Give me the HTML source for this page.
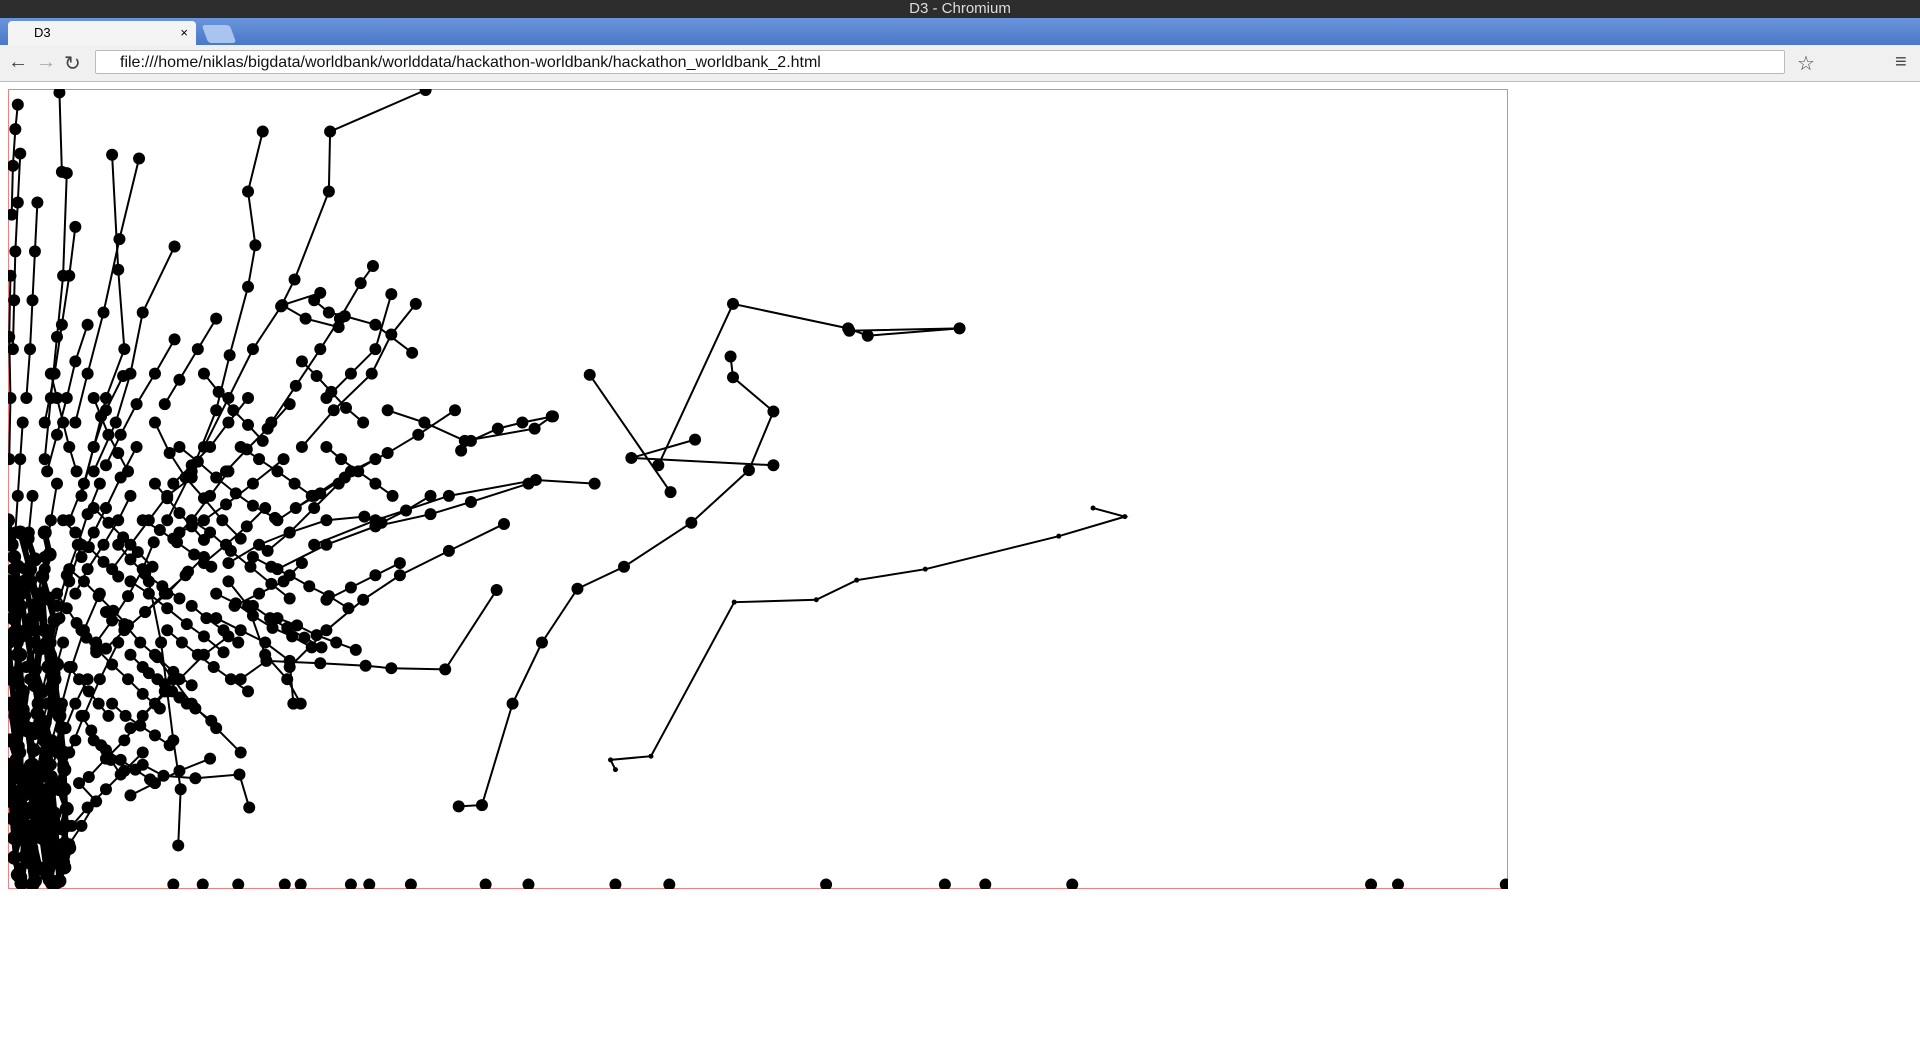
<!DOCTYPE html>
<html><head><meta charset="utf-8"><style>
html,body{margin:0;padding:0;width:1920px;height:1045px;overflow:hidden;background:#fff;font-family:"Liberation Sans",sans-serif}
#titlebar{position:absolute;left:0;top:0;width:1920px;height:18px;background:#2d2d2d;color:#ddd;font-size:15px;text-align:center;line-height:18px}
#tabbar{position:absolute;left:0;top:18px;width:1920px;height:27px;background:linear-gradient(#6a95dc,#4a78c8)}
#tab{position:absolute;left:8px;top:3px;width:188px;height:24px;background:#f4f4f4;border-radius:4px 4px 0 0;font-size:13px;line-height:24px}
#newtab{position:absolute;left:205px;top:7px;width:28px;height:18px;background:#a9c4ee;border-radius:3px;transform:skewX(20deg)}
#toolbar{position:absolute;left:0;top:45px;width:1920px;height:36px;background:#f0f0f0;border-bottom:1px solid #bbb}
#url{position:absolute;left:95px;top:5px;width:1690px;height:24px;background:#fff;border:1px solid #bbb;border-radius:2px;font-size:16px;line-height:24px;padding-left:24px;box-sizing:border-box;color:#111}
.nav{position:absolute;top:6px;font-size:20px;color:#444}
#chart{position:absolute;left:8px;top:89px}
</style></head><body>
<div id="titlebar">D3 - Chromium</div>
<div id="tabbar">
<div id="tab"><span style="margin-left:26px">D3</span><span style="position:absolute;right:8px;font-size:13px">×</span></div>
<div id="newtab"></div>
</div>
<div id="toolbar">
<span class="nav" style="left:8px">←</span>
<span class="nav" style="left:36px;color:#aaa">→</span>
<span class="nav" style="left:64px">↻</span>
<div id="url">file:///home/niklas/bigdata/worldbank/worlddata/hackathon-worldbank/hackathon_worldbank_2.html</div>
<span class="nav" style="left:1797px">☆</span>
<span class="nav" style="left:1895px">≡</span>
</div>
<svg id="chart" width="1500" height="800">
<rect x="0.5" y="0.5" width="1499" height="799" fill="none" stroke="#f08080" stroke-width="1"></rect>
<g id="marks"></g>
</svg>
<script>
const xMax = 1224, yMax = 652;
const seriesBig = [
[[531,345],[592,477],[686,457],[702,451],[777,457],[687,455]],
[[590,434],[592,417],[625,389],[605,341],[558,298],[503,262],[465,244],[436,200],[412,150],[387,67],[368,66]],
[[475,419],[541,323]],
[[561,366],[509,351],[625,345]],
[[444,385],[430,375],[373,365],[340,380],[310,390]],
[[479,330],[431,333],[360,320],[300,300],[250,280]],
[[341,652],[263,618],[262,569],[234,497],[223,475],[200,440],[180,400],[160,360]],
[[208,618],[196,569],[202,525],[196,491],[181,435],[170,390],[150,340],[130,300]],
[[42,650],[44,585],[48,584],[45,500],[40,450],[35,400],[30,350]],
[[85,599],[90,505],[95,440],[80,400],[70,360],[60,320]],
[[107,596],[91,530],[78,470],[65,420],[55,380]],
[[136,524],[110,470],[100,420],[88,380],[70,340]],
[[298,508],[288,494],[271,465],[255,440],[235,410],[215,380]],
[[333,477],[313,452],[297,420],[266,390],[240,360]],
[[255,486],[224,476],[243,465],[270,458]],
[[399,243],[357,178],[313,179],[292,181],[255,183],[211,185],[190,170]],
[[197,65],[189,92],[153,89],[127,91],[110,100]],
[[139,34],[141,80],[135,120],[130,160],[125,200],[115,250]],
[[445,385],[420,380],[400,375],[378,365],[370,357]],
[[405,297],[360,275],[320,255],[290,235],[260,210],[230,180]],
[[425,330],[378,315],[345,305],[300,295],[260,280],[220,260]],
[[313,485],[300,440],[280,420],[260,400]],
[[330,437],[300,460],[275,467],[262,470],[250,480]],
[[365,390],[335,370],[310,355],[280,340],[250,320],[220,300]],
[[291,303],[260,300],[230,290],[205,280],[180,265]],
[[225,350],[200,330],[178,313],[160,300],[140,290]],
[[233,150],[230,185],[210,200],[190,210],[170,220]],
[[180,205],[160,190],[140,170],[120,150],[100,130]],
[[147,258],[130,240],[112,225],[95,210],[80,195]],
[[100,320],[90,300],[78,280],[65,260],[55,240]],
[[119,282],[110,260],[98,238],[85,218],[72,200]],
[[58,85],[72,70],[60,50],[50,35],[40,20]],
[[190,110],[170,130],[150,150],[135,170],[120,190]],
[[239,150],[228,170],[210,190],[196,230],[180,250]],
[[94,418],[80,390],[70,360],[62,330],[50,300]],
[[136,448],[120,420],[105,395],[92,370],[80,345]],
[[150,335],[130,320],[115,300],[100,280],[85,260]],
[[65,460],[55,430],[48,400],[40,370],[32,340]],
[[55,540],[50,500],[44,460],[38,420],[30,380]],
[[24,560],[22,520],[20,480],[18,440],[15,400]],
[[10,600],[8,560],[6,520],[5,480],[4,440]],
[[40,330],[35,300],[30,270],[25,240],[20,210],[15,180]],
[[60,280],[50,250],[42,220],[35,190],[28,160],[20,130]],
[[75,240],[62,210],[52,180],[44,150],[36,120],[28,90]],
[[90,200],[75,170],[62,140],[50,110],[40,80],[30,50]],
[[55,120],[45,100],[38,80],[30,60],[22,40],[15,20]],
[[30,260],[26,230],[22,200],[18,170],[14,140],[10,110]],
[[20,320],[17,290],[14,260],[11,230],[8,200],[5,170]],
[[45,200],[38,175],[32,150],[26,125],[20,100],[14,75]],
[[35,100],[30,80],[25,60],[20,45],[15,30],[10,15]],
[[12,380],[10,350],[8,320],[6,290],[4,260],[2,230]],
[[65,170],[55,150],[47,130],[40,110],[33,90],[26,70]],
[[25,150],[21,125],[18,100],[14,80],[10,60],[6,40]],
[[110,110],[95,95],[80,80],[65,65],[52,50],[40,35]],
[[128,160],[110,140],[95,120],[80,105],[66,90]],
[[165,105],[140,95],[120,85],[100,75]],
[[75,330],[65,305],[57,280],[48,255],[40,230]],
[[105,360],[92,335],[80,310],[70,290],[60,270]],
[[160,270],[145,255],[128,240],[112,225]],
[[180,340],[165,320],[150,300],[135,285]],
[[210,310],[195,295],[178,280],[160,265]],
[[240,265],[225,250],[205,240],[185,230]],
[[270,330],[250,310],[230,290],[212,275]],
[[300,350],[275,335],[255,322],[235,310]],
[[320,265],[300,255],[280,245],[260,235]],
[[345,320],[325,308],[305,298]],
[[196,400],[180,380],[165,360],[150,345],[135,330]],
[[170,465],[155,440],[140,415],[128,395]],
[[230,395],[212,375],[195,358],[178,340]],
[[8,640],[6,620],[4,590],[3,550]],
[[2,500],[1,450],[2,400],[1,350]],
[[120,380],[132,355],[145,335],[160,318],[175,300],[190,285]],
[[150,300],[165,290],[182,275],[198,262],[215,248],[230,236]],
[[100,250],[115,240],[130,228],[146,215],[160,205],[176,192]],
[[80,225],[95,215],[108,200],[122,188],[135,176],[150,165]],
[[60,210],[72,195],[85,182],[98,170],[110,158],[124,146]],
[[170,240],[186,232],[200,222],[216,212],[232,205],[248,196]],
[[200,270],[215,262],[230,255],[246,246],[262,238],[278,228]],
[[140,360],[155,348],[170,335],[186,322],[200,312],[218,302]],
[[110,300],[124,292],[138,282],[152,272],[166,262]],
[[90,280],[100,268],[112,256],[126,246],[140,236]],
[[70,310],[82,298],[94,286],[106,274],[118,262]],
[[50,260],[62,250],[74,238],[86,226],[98,214]],
[[45,300],[55,290],[66,278],[78,266],[90,254]],
[[130,210],[142,200],[155,190],[168,180],[182,170],[196,160]],
[[115,175],[128,166],[140,155],[153,146],[166,136]],
[[85,150],[96,140],[108,132],[120,124],[132,116]],
[[70,120],[80,112],[92,104],[104,96],[116,88]],
[[60,140],[68,128],[76,116],[84,104],[92,92]],
[[50,180],[58,170],[66,160],[74,150],[82,140]],
[[40,240],[48,228],[56,216],[64,204],[72,192]],
[[160,420],[172,405],[184,390],[196,378],[208,365]],
[[120,330],[130,318],[140,306],[150,295],[160,284]],
[[240,430],[252,418],[264,405],[276,392],[290,380]],
[[260,360],[272,350],[286,340],[300,330],[314,320]],
[[190,360],[205,350],[220,340],[234,330],[248,320]],
[[200,230],[214,220],[228,212],[242,204],[256,196]],
[[150,230],[162,220],[176,210],[188,200]],
[[220,220],[236,214],[252,206],[268,200],[284,194]],
[[100,190],[110,180],[122,170],[134,160],[146,150]],
[[35,420],[40,400],[45,380],[50,360],[56,340]],
[[70,400],[76,385],[82,370],[90,355],[98,340]]
];
const seriesDense = [
[[0,300],[5,270],[10,240],[15,210],[20,180],[25,150],[30,120],[35,90],[38,60],[40,30],[42,5]],
[[0,250],[4,220],[8,190],[12,160],[16,130],[20,100],[24,70],[28,40],[32,10]],
[[0,200],[3,170],[6,140],[9,110],[12,80],[15,50],[18,20],[20,2]],
[[10,290],[18,260],[25,230],[32,200],[38,170],[42,140],[45,110],[46,80],[47,50],[45,20]],
[[2,150],[6,120],[10,90],[14,60],[18,30],[22,5]],
[[0,100],[3,70],[5,40],[8,10]],
[[28,240],[30,210],[33,180],[36,150],[30,120],[25,90],[28,60],[33,30],[36,3]],
[[14,250],[20,220],[26,195],[22,165],[27,135],[31,105],[24,75],[19,45],[26,15]],
[[5,230],[10,205],[7,175],[12,145],[8,115],[13,85],[9,55],[14,25],[11,3]],
[[3,280],[8,262],[4,244],[9,226],[5,208],[10,190],[6,172],[11,154],[7,136]],
[[16,285],[22,268],[18,250],[24,232],[20,214],[26,196],[22,178],[28,160],[24,142]],
[[30,290],[34,272],[28,254],[33,236],[38,218],[34,200],[40,182],[36,164],[42,146]],
[[2,120],[7,104],[3,88],[8,72],[4,56],[9,40],[5,24],[10,8]],
[[16,128],[21,112],[17,96],[22,80],[18,64],[23,48],[19,32],[24,16]],
[[30,135],[35,118],[31,102],[36,86],[32,70],[37,54],[33,38],[38,22],[34,6]],
[[44,130],[40,112],[46,96],[42,80],[48,64],[44,48],[50,32],[46,16],[40,4]]
];
const seriesSmall = [
[[886,310],[912,303],[858,287],[749,260],[693,251],[660,235],[593,233],[525,107],[492,104],[496,96]]
];
const baselineX = [135,159,188,226,239,280,295,329,390,425,496,540,668,765,798,869,1113,1135,1223];
const baselineY = 2;

const W = 1500, H = 800;
function sx(v){ return v / xMax * (W - 1); }
function sy(v){ return H - 2 - v / yMax * (H - 3); }
const NS = 'http://www.w3.org/2000/svg';
const g = document.getElementById('marks');
function drawSeries(list, r, sw, prefix){
  list.forEach((s, i) => {
    const grp = document.createElementNS(NS, 'g');
    
    
    const pl = document.createElementNS(NS, 'polyline');
    pl.setAttribute('points', s.map(p => sx(p[0]) + ',' + sy(p[1])).join(' '));
    pl.setAttribute('fill', 'none');
    pl.setAttribute('stroke', '#000');
    pl.setAttribute('stroke-width', sw);
    
    
    grp.appendChild(pl);
    s.forEach(p => {
      const c = document.createElementNS(NS, 'circle');
      c.setAttribute('cx', sx(p[0]));
      c.setAttribute('cy', sy(p[1]));
      c.setAttribute('r', r);
      c.setAttribute('fill', '#000');
      
      
      grp.appendChild(c);
    });
    g.appendChild(grp);
  });
}
drawSeries(seriesBig, 6, 2, 'country-series');
drawSeries(seriesDense, 7, 6, 'dense-series');
drawSeries(seriesSmall, 2.5, 2, 'small-series');
baselineX.forEach(x => {
  const c = document.createElementNS(NS, 'circle');
  c.setAttribute('cx', sx(x));
  c.setAttribute('cy', sy(baselineY));
  c.setAttribute('r', 6);
  c.setAttribute('fill', '#000');
  
  
  g.appendChild(c);
});
</script>
</body></html>
